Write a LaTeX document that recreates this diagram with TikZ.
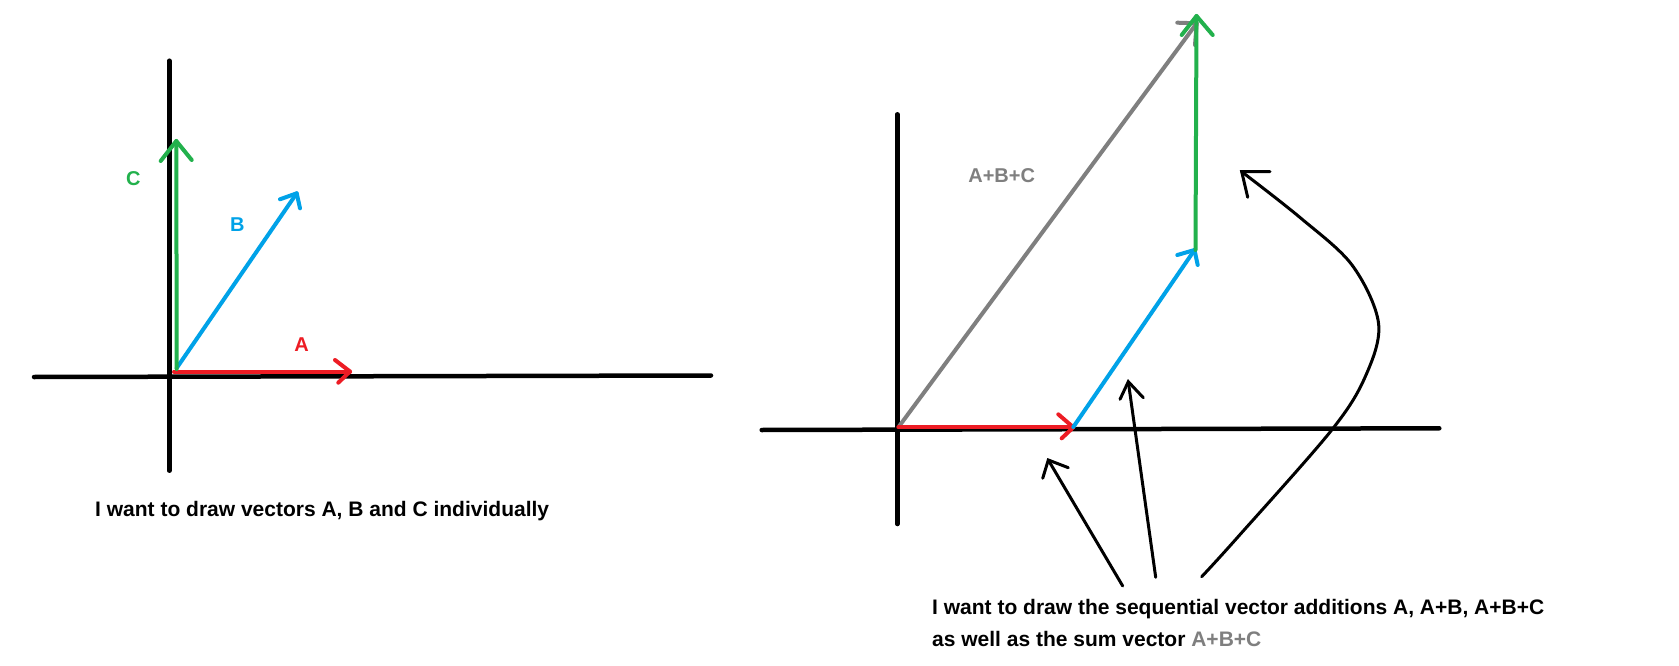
\documentclass[tikz,border=0pt]{standalone}
\usepackage{fontspec}
\setmainfont{Liberation Sans}
\definecolor{pred}{HTML}{ED1C24}
\definecolor{pblue}{HTML}{00A2E8}
\definecolor{pgreen}{HTML}{22B14C}
\definecolor{pgray}{HTML}{7F7F7F}
\begin{document}
\begin{tikzpicture}[x=1pt,y=-1pt,
  axisline/.style={line width=4.5pt,line cap=round},
  vec/.style={line width=4pt,line cap=round,line join=round},
  pointer/.style={line width=3pt,line cap=round,line join=miter},
  lbl/.style={inner sep=0pt,font=\fontsize{20}{24}\selectfont\bfseries},
  note/.style={inner sep=0pt,anchor=base west,font=\fontsize{21}{25}\selectfont\bfseries}]
\useasboundingbox[fill=white] (0,0) rectangle (1679,666);

% ---------- left plot ----------
\coordinate (lxa) at (34,377);
\coordinate (lxb) at (711,375.5);
\coordinate (lya) at (169.3,60.7);
\coordinate (lyb) at (169.3,470.7);
\draw[axisline] (lxa) -- (lxb);
\draw[axisline] (lya) -- (lyb);

\coordinate (la0) at (174,371.5);
\coordinate (la1) at (350,371.5);
\coordinate (la2) at (335,360);
\coordinate (la3) at (338.3,382.7);
\draw[vec,pred] (la0) -- (la1);
\draw[vec,pred] (la2) -- (la1) -- (la3);

\coordinate (lb0) at (176.7,368);
\coordinate (lb1) at (296.7,193.3);
\coordinate (lb2) at (280,199.3);
\coordinate (lb3) at (300,208.3);
\draw[vec,pblue] (lb0) -- (lb1);
\draw[vec,pblue] (lb2) -- (lb1) -- (lb3);

\coordinate (lc0) at (176.7,369);
\coordinate (lc1) at (176.3,141);
\coordinate (lc2) at (160.7,161);
\coordinate (lc3) at (191.7,160);
\draw[vec,pgreen] (lc0) -- (lc1);
\draw[vec,pgreen] (lc2) -- (lc1) -- (lc3);

\node[lbl,text=pred] (labA) at (301.7,345) {A};
\node[lbl,text=pblue] (labB) at (237.3,224.3) {B};
\node[lbl,text=pgreen] (labC) at (133.3,179) {C};

\node[note] (textL) at (95,516.7)
  {I want to draw vectors A, B and C individually};

% ---------- right plot ----------
\coordinate (rxa) at (761.7,430);
\coordinate (rxb) at (1439.3,428.3);
\coordinate (rya) at (897.3,114.3);
\coordinate (ryb) at (897.3,524);
\draw[axisline] (rxa) -- (rxb);
\draw[axisline] (rya) -- (ryb);

\coordinate (rs0) at (899.3,426);
\coordinate (rs1) at (1196.7,23.3);
\coordinate (rs2) at (1177.3,22.7);
\coordinate (rs3) at (1195,45);
\draw[vec,pgray] (rs0) -- (rs1);
\draw[vec,pgray] (rs2) -- (rs1) -- (rs3);

\coordinate (ra0) at (898.3,427.3);
\coordinate (ra1) at (1073.3,427.3);
\coordinate (ra2) at (1058.3,414.3);
\coordinate (ra3) at (1061.7,438.3);
\draw[vec,pred] (ra0) -- (ra1);
\draw[vec,pred] (ra2) -- (ra1) -- (ra3);

\coordinate (rb0) at (1073.3,427);
\coordinate (rb1) at (1194.5,250);
\coordinate (rb2) at (1177.3,255);
\coordinate (rb3) at (1197.7,265);
\draw[vec,pblue] (rb0) -- (rb1);
\draw[vec,pblue] (rb2) -- (rb1) -- (rb3);

\coordinate (rc0) at (1195.5,250);
\coordinate (rc1) at (1196.5,16);
\coordinate (rc2) at (1181.7,35);
\coordinate (rc3) at (1212.7,35);
\draw[vec,pgreen] (rc0) -- (rc1);
\draw[vec,pgreen] (rc2) -- (rc1) -- (rc3);

\node[lbl,text=pgray] (labS) at (1001.7,175.7) {A+B+C};

% pointers
\coordinate (p1t) at (1122.7,586);
\coordinate (p1h) at (1048.3,460);
\coordinate (p1a) at (1042.7,478.3);
\coordinate (p1b) at (1068.3,467.7);
\draw[pointer] (p1t) -- (p1h);
\draw[pointer] (p1a) -- (p1h) -- (p1b);

\coordinate (p2t) at (1155.7,577.3);
\coordinate (p2h) at (1128.3,381.7);
\coordinate (p2a) at (1120,399.3);
\coordinate (p2b) at (1143.3,397.7);
\draw[pointer] (p2t) -- (p2h);
\draw[pointer] (p2a) -- (p2h) -- (p2b);

\coordinate (p3t) at (1201.7,576.7);
\coordinate (p3h) at (1241.7,171.7);
\coordinate (p3a) at (1270,171.7);
\coordinate (p3b) at (1247.7,197.3);
\draw[pointer] plot[smooth,tension=0.55] coordinates {(1201.7,576.7) (1236.7,538.3) (1331.7,430) (1366,375) (1378.5,323) (1352,265) (1300,217.5) (1241.7,171.7)};
\draw[pointer] (p3a) -- (p3h) -- (p3b);

\node[note] (textR1) at (932,614)
  {I want to draw the sequential vector additions A, A+B, A+B+C};
\node[note] (textR2) at (932,646)
  {as well as the sum vector \textcolor{pgray}{A+B+C}};
\end{tikzpicture}
\end{document}
